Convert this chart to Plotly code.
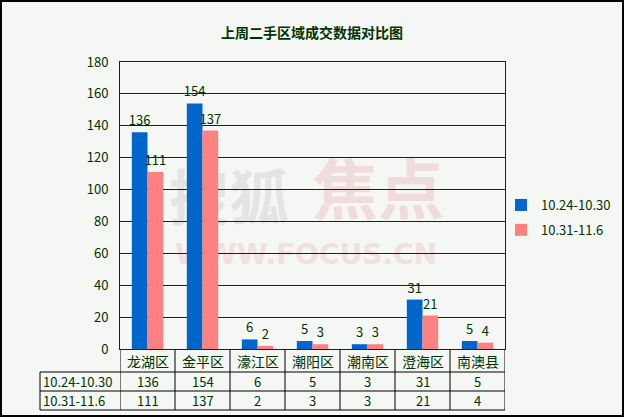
import plotly.graph_objects as go

categories = ["龙湖区", "金平区", "濠江区", "潮阳区", "潮南区", "澄海区", "南澳县"]
series_names = ["10.24-10.30", "10.31-11.6"]
week1 = [136, 154, 6, 5, 3, 31, 5]
week2 = [111, 137, 2, 3, 3, 21, 4]
title = "上周二手区域成交数据对比图"

BLUE = "#0066CC"
PINK = "#FF8080"
DG = "#003300"
BG = "#F4F7F3"
FONT = "Noto Sans CJK SC, DejaVu Sans, sans-serif"

W, H = 624, 417
L, R, T, B = 120, 505, 62, 349
pw, ph = R - L, B - T

def px(x):
    return (x - L) / pw

def py(y):
    return (B - y) / ph

fig = go.Figure()
for name, vals, col in [(series_names[0], week1, BLUE), (series_names[1], week2, PINK)]:
    fig.add_trace(go.Bar(
        x=list(range(len(categories))), y=vals, name=name,
        marker=dict(color=col, line=dict(width=0)),
        text=[str(v) for v in vals], textposition="outside", constraintext="none",
        textfont=dict(color=DG, size=13, family=FONT),
        cliponaxis=False, legendgroup=name,
    ))

shapes = []
annotations = []

# outer border
shapes.append(dict(type="rect", xref="paper", yref="paper",
                   x0=px(1), x1=px(W - 1), y0=py(H - 1), y1=py(1),
                   line=dict(color="black", width=2), layer="above"))

# watermark (drawn below gridlines and bars)
def wm(cx, cy, txt, size, color, family):
    shapes.append(dict(type="rect", xref="paper", yref="paper",
                       x0=px(cx - 5), x1=px(cx + 5), y0=py(cy + 5), y1=py(cy - 5),
                       line=dict(width=0), fillcolor="rgba(0,0,0,0)", layer="below",
                       label=dict(text=txt, textposition="middle center",
                                  font=dict(size=size, color=color, family=family))))

wm(229, 203, "<b>搜狐</b>", 60, "#e3e5e2", FONT)
wm(378, 196, "<b>焦点</b>", 66, "#f1dcdc", FONT)
wm(306, 252, "<b>WWW.FOCUS.CN</b>", 28, "#f2dfdf", "DejaVu Sans")

# data table
row_y = [B, 372, 391, 410]
tleft = 40
for yy in row_y[1:]:
    shapes.append(dict(type="line", xref="paper", yref="paper", x0=px(tleft), x1=px(R),
                       y0=py(yy), y1=py(yy), line=dict(color="black", width=1)))
shapes.append(dict(type="line", xref="paper", yref="paper", x0=px(tleft), x1=px(tleft),
                   y0=py(row_y[1]), y1=py(row_y[3]), line=dict(color="black", width=1)))
for i in range(len(categories) + 1):
    shapes.append(dict(type="line", xref="x", yref="paper", x0=i - 0.5, x1=i - 0.5,
                       y0=py(row_y[0]), y1=py(row_y[3]), line=dict(color="black", width=1)))

for i, c in enumerate(categories):
    annotations.append(dict(xref="x", yref="paper", x=i, y=py((row_y[0] + row_y[1]) / 2),
                            xanchor="center", yanchor="middle",
                            text=c, showarrow=False, font=dict(size=14, color=DG, family=FONT)))
    for r, vals in enumerate([week1, week2]):
        annotations.append(dict(xref="x", yref="paper", x=i, y=py((row_y[r + 1] + row_y[r + 2]) / 2),
                                xanchor="center", yanchor="middle",
                                text=str(vals[i]), showarrow=False,
                                font=dict(size=13, color=DG, family=FONT)))
for r, n in enumerate(series_names):
    annotations.append(dict(xref="paper", yref="paper", x=px(tleft + 1), xanchor="left",
                            y=py((row_y[r + 1] + row_y[r + 2]) / 2), yanchor="middle",
                            text=n, showarrow=False,
                            font=dict(size=13, color=DG, family=FONT)))

fig.update_layout(
    width=W, height=H,
    margin=dict(l=L, r=W - R, t=T, b=H - B, pad=0, autoexpand=False),
    paper_bgcolor=BG, plot_bgcolor=BG,
    title=dict(text="<b>" + title + "</b>", x=0.5, xanchor="center", y=1 - 33 / H, yanchor="middle",
               font=dict(size=14, color=DG, family=FONT)),
    barmode="group", bargap=0.43, bargroupgap=0,
    showlegend=True,
    legend=dict(xref="container", yref="container", x=501 / W, y=1 - 190 / H,
                xanchor="left", yanchor="top",
                font=dict(size=13, color=DG, family=FONT), bgcolor="rgba(0,0,0,0)",
                tracegroupgap=5, itemwidth=30),
    xaxis=dict(range=[-0.5, len(categories) - 0.5], showticklabels=False, showgrid=False,
               zeroline=False, showline=True, linecolor=DG, linewidth=1, mirror=True, ticks=""),
    yaxis=dict(range=[0, 180], dtick=20, showgrid=True, gridcolor=DG, gridwidth=1,
               zeroline=False, showline=True, linecolor=DG, linewidth=1, mirror=True,
               tickfont=dict(size=13, color=DG, family=FONT), ticks="", ticklabelstandoff=8),
    shapes=shapes, annotations=annotations,
)

fig.write_html("out.html")
